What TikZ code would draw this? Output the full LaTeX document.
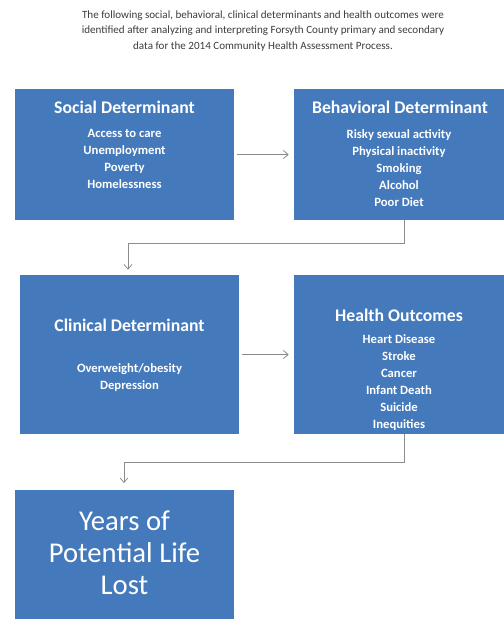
\documentclass[tikz,border=0pt]{standalone}
\usepackage{fontspec}
\setmainfont{Carlito}
\usetikzlibrary{positioning,fit,arrows.meta}

\definecolor{boxblue}{RGB}{68,121,188}
\definecolor{linegray}{RGB}{140,140,140}
\definecolor{titlegray}{RGB}{60,60,60}

\tikzset{
  box/.style={fill=boxblue, draw=none, inner sep=0pt},
  head/.style={text=white, font=\fontsize{13.3}{16}\selectfont\bfseries},
  items/.style={text=white, align=center, font=\fontsize{9.5}{12.75}\selectfont\bfseries},
  big/.style={text=white, align=center, font=\fontsize{21.5}{24}\selectfont},
  conn/.style={draw=linegray, line width=0.6pt, -{Straight Barb[length=3.5pt,width=6pt]}}
}

\begin{document}
\begin{tikzpicture}[x=0.75pt,y=-0.75pt]
                \useasboundingbox (0,0) rectangle (504,619);

                \node[align=center, text=titlegray, font=\fontsize{8.3}{11.6}\selectfont] (intro) at (263,31)
                    {The following social, behavioral, clinical determinants and health outcomes were\\
                     identified after analyzing and interpreting Forsyth County primary and secondary\\
                     data for the 2014 Community Health Assessment Process.};

                \node[box, fit={(15,89) (234,220)}] (soc) {};
                \node[box, fit={(294,89) (504,220)}] (beh) {};
                \node[box, fit={(20,275) (239,434)}] (clin) {};
                \node[box, fit={(294,275) (504,434)}] (hlth) {};
                \node[box, fit={(15,490) (234,619)}] (yrs) {};

                \node[head] (socT) at (124.5,107) {Social Determinant};
                \node[items] (socL) at (124.5,158.5) {Access to care\\Unemployment\\Poverty\\Homelessness};

                \node[head] (behT) at (400,107) {Behavioral Determinant};
                \node[items] (behL) at (399,168.5) {Risky sexual activity\\Physical inactivity\\Smoking\\Alcohol\\Poor Diet};

                \node[head] (clinT) at (129.5,325) {Clinical Determinant};
                \node[items] (clinL) at (129.5,377.5) {Overweight/obesity\\Depression};

                \node[head] (hlthT) at (399,315) {Health Outcomes};
                \node[items] (hlthL) at (399,383) {Heart Disease\\Stroke\\Cancer\\Infant Death\\Suicide\\Inequities};

                \node[big] (yrsT) at (124.5,553) {Years of\\Potential Life\\Lost};

                \draw[conn, shorten <=2.25pt, shorten >=3.75pt] (soc.east) -- (beh.west);
                \draw[conn, shorten >=3.75pt] ([xshift=3.75pt]beh.south) -- ++(0,23) -| ([xshift=-1.1pt]clin.north);
                \draw[conn, shorten <=2.25pt, shorten >=3.75pt] (clin.east) -- (hlth.west);
                \draw[conn, shorten >=5pt] ([xshift=3.75pt]hlth.south) -- ++(0,28) -| ([xshift=-0.4pt]yrs.north);
\end{tikzpicture}
\end{document}
